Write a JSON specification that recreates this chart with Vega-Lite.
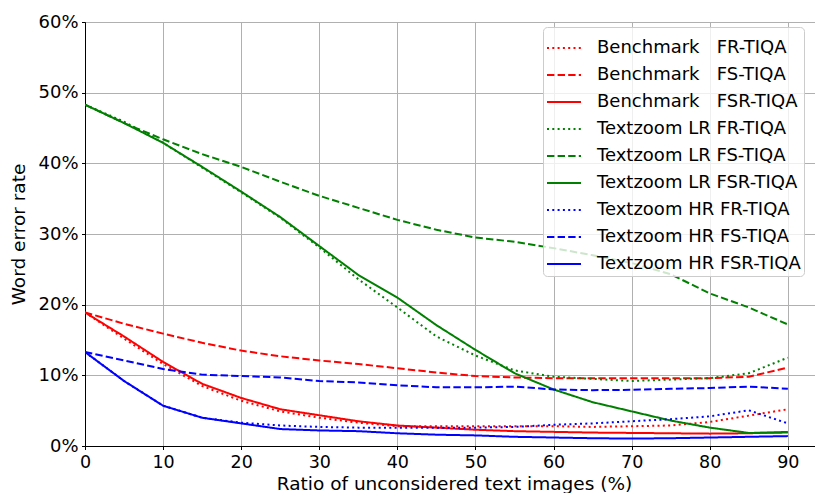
{
  "$schema": "https://vega.github.io/schema/vega-lite/v6.json",
  "autosize": {"type": "none"},
  "padding": {"left": 85, "top": 22, "right": 0, "bottom": 47},
  "width": 738,
  "height": 424,
  "background": "white",
  "data": {"values": [
    {"x": 0, "BFR": 18.9, "BFS": 18.9, "BFSR": 18.9, "LFR": 48.3, "LFS": 48.3, "LFSR": 48.3, "HFR": 13.3, "HFS": 13.3, "HFSR": 13.3},
    {"x": 5, "BFR": 15.2, "BFS": 17.3, "BFSR": 15.5, "LFR": 45.9, "LFS": 45.7, "LFSR": 45.7, "HFR": 9.2, "HFS": 12.1, "HFSR": 9.2},
    {"x": 10, "BFR": 11.6, "BFS": 15.9, "BFSR": 11.9, "LFR": 42.9, "LFS": 43.4, "LFSR": 42.9, "HFR": 5.7, "HFS": 10.9, "HFSR": 5.7},
    {"x": 15, "BFR": 8.5, "BFS": 14.6, "BFSR": 8.8, "LFR": 39.4, "LFS": 41.3, "LFSR": 39.5, "HFR": 4.0, "HFS": 10.1, "HFSR": 4.0},
    {"x": 20, "BFR": 6.4, "BFS": 13.5, "BFSR": 6.8, "LFR": 35.9, "LFS": 39.5, "LFSR": 36.0, "HFR": 3.3, "HFS": 9.9, "HFSR": 3.2},
    {"x": 25, "BFR": 4.9, "BFS": 12.7, "BFSR": 5.2, "LFR": 32.3, "LFS": 37.4, "LFSR": 32.4, "HFR": 2.9, "HFS": 9.7, "HFSR": 2.4},
    {"x": 30, "BFR": 4.0, "BFS": 12.1, "BFSR": 4.35, "LFR": 28.1, "LFS": 35.4, "LFSR": 28.3, "HFR": 2.7, "HFS": 9.2, "HFSR": 2.2},
    {"x": 35, "BFR": 3.3, "BFS": 11.6, "BFSR": 3.5, "LFR": 23.6, "LFS": 33.7, "LFSR": 24.2, "HFR": 2.6, "HFS": 9.0, "HFSR": 2.1},
    {"x": 40, "BFR": 2.8, "BFS": 11.0, "BFSR": 2.9, "LFR": 19.6, "LFS": 32.0, "LFSR": 21.0, "HFR": 2.6, "HFS": 8.6, "HFSR": 1.8},
    {"x": 45, "BFR": 2.8, "BFS": 10.4, "BFSR": 2.6, "LFR": 15.5, "LFS": 30.6, "LFSR": 17.1, "HFR": 2.6, "HFS": 8.3, "HFSR": 1.6},
    {"x": 50, "BFR": 2.8, "BFS": 9.9, "BFSR": 2.3, "LFR": 12.8, "LFS": 29.5, "LFSR": 13.6, "HFR": 2.6, "HFS": 8.3, "HFSR": 1.5},
    {"x": 55, "BFR": 2.8, "BFS": 9.7, "BFSR": 2.1, "LFR": 10.7, "LFS": 28.9, "LFSR": 10.3, "HFR": 2.7, "HFS": 8.4, "HFSR": 1.3},
    {"x": 60, "BFR": 2.8, "BFS": 9.6, "BFSR": 2.0, "LFR": 9.8, "LFS": 28.0, "LFSR": 8.0, "HFR": 3.0, "HFS": 8.0, "HFSR": 1.2},
    {"x": 65, "BFR": 2.7, "BFS": 9.6, "BFSR": 1.9, "LFR": 9.5, "LFS": 27.0, "LFSR": 6.2, "HFR": 3.2, "HFS": 7.9, "HFSR": 1.1},
    {"x": 70, "BFR": 2.8, "BFS": 9.6, "BFSR": 1.85, "LFR": 9.2, "LFS": 25.9, "LFSR": 4.9, "HFR": 3.5, "HFS": 7.95, "HFSR": 1.05},
    {"x": 75, "BFR": 2.9, "BFS": 9.6, "BFSR": 1.8, "LFR": 9.4, "LFS": 24.3, "LFSR": 3.6, "HFR": 3.8, "HFS": 8.1, "HFSR": 1.1},
    {"x": 80, "BFR": 3.4, "BFS": 9.6, "BFSR": 1.75, "LFR": 9.6, "LFS": 21.6, "LFSR": 2.6, "HFR": 4.2, "HFS": 8.2, "HFSR": 1.2},
    {"x": 85, "BFR": 4.3, "BFS": 9.8, "BFSR": 1.8, "LFR": 10.3, "LFS": 19.6, "LFSR": 1.85, "HFR": 5.05, "HFS": 8.4, "HFSR": 1.3},
    {"x": 90, "BFR": 5.2, "BFS": 11.1, "BFSR": 2.0, "LFR": 12.5, "LFS": 17.2, "LFSR": 1.9, "HFR": 3.2, "HFS": 8.1, "HFSR": 1.4}
  ]},
  "transform": [
    {"fold": ["BFR", "BFS", "BFSR", "LFR", "LFS", "LFSR", "HFR", "HFS", "HFSR"], "as": ["key", "y"]},
    {"lookup": "key", "from": {"data": {"values": [
      {"key": "BFR", "name": "Benchmark\u00a0\u00a0\u00a0FR-TIQA"},
      {"key": "BFS", "name": "Benchmark\u00a0\u00a0\u00a0FS-TIQA"},
      {"key": "BFSR", "name": "Benchmark\u00a0\u00a0\u00a0FSR-TIQA"},
      {"key": "LFR", "name": "Textzoom LR FR-TIQA"},
      {"key": "LFS", "name": "Textzoom LR FS-TIQA"},
      {"key": "LFSR", "name": "Textzoom LR FSR-TIQA"},
      {"key": "HFR", "name": "Textzoom HR FR-TIQA"},
      {"key": "HFS", "name": "Textzoom HR FS-TIQA"},
      {"key": "HFSR", "name": "Textzoom HR FSR-TIQA"}
    ]}, "key": "key", "fields": ["name"]}}
  ],
  "mark": {"type": "line", "strokeWidth": 2, "clip": true, "strokeCap": "butt"},
  "encoding": {
    "x": {"field": "x", "type": "quantitative",
      "scale": {"domain": [0, 94.5], "nice": false, "zero": false},
      "axis": {"values": [0, 10, 20, 30, 40, 50, 60, 70, 80, 90], "labelFlush": false, "title": "Ratio of unconsidered text images (%)"}},
    "y": {"field": "y", "type": "quantitative",
      "scale": {"domain": [0, 60], "nice": false},
      "axis": {"values": [0, 10, 20, 30, 40, 50, 60], "labelFlush": false, "labelExpr": "datum.value + '%'", "title": "Word error rate"}},
    "color": {"field": "name", "type": "nominal", "title": null,
      "scale": {
        "domain": ["Benchmark\u00a0\u00a0\u00a0FR-TIQA", "Benchmark\u00a0\u00a0\u00a0FS-TIQA", "Benchmark\u00a0\u00a0\u00a0FSR-TIQA", "Textzoom LR FR-TIQA", "Textzoom LR FS-TIQA", "Textzoom LR FSR-TIQA", "Textzoom HR FR-TIQA", "Textzoom HR FS-TIQA", "Textzoom HR FSR-TIQA"],
        "range": ["#ff0000", "#ff0000", "#ff0000", "#008000", "#008000", "#008000", "#0000ff", "#0000ff", "#0000ff"]}},
    "strokeDash": {"field": "name", "type": "nominal", "title": null,
      "scale": {
        "domain": ["Benchmark\u00a0\u00a0\u00a0FR-TIQA", "Benchmark\u00a0\u00a0\u00a0FS-TIQA", "Benchmark\u00a0\u00a0\u00a0FSR-TIQA", "Textzoom LR FR-TIQA", "Textzoom LR FS-TIQA", "Textzoom LR FSR-TIQA", "Textzoom HR FR-TIQA", "Textzoom HR FS-TIQA", "Textzoom HR FSR-TIQA"],
        "range": [[2, 3.3], [7.4, 3.2], [1, 0], [2, 3.3], [7.4, 3.2], [1, 0], [2, 3.3], [7.4, 3.2], [1, 0]]}}
  },
  "config": {
    "font": "DejaVu Sans",
    "view": {"stroke": "black", "strokeWidth": 1},
    "axis": {
      "labelFont": "DejaVu Sans", "labelFontSize": 17.5, "labelColor": "black",
      "titleFont": "DejaVu Sans", "titleFontSize": 18.5, "titleFontWeight": "normal", "titleColor": "black",
      "gridColor": "#b0b0b0", "gridWidth": 1, "gridOpacity": 1,
      "domainColor": "black", "domainWidth": 1,
      "tickColor": "black", "tickSize": 3.5, "tickWidth": 1,
      "labelPadding": 3.5
    },
    "axisY": {"titlePadding": 9, "labelFontSize": 18},
    "axisX": {"titlePadding": 4},
    "legend": {
      "orient": "none", "legendX": 458, "legendY": 5,
      "padding": 3,
      "symbolType": "stroke", "symbolSize": 1156, "symbolStrokeWidth": 2,
      "labelFont": "DejaVu Sans", "labelFontSize": 18, "labelColor": "black",
      "labelOffset": 15, "rowPadding": 0, "labelLimit": 400,
      "fillColor": "rgba(255,255,255,0.8)", "strokeColor": "#cccccc", "cornerRadius": 4
    }
  }
}
